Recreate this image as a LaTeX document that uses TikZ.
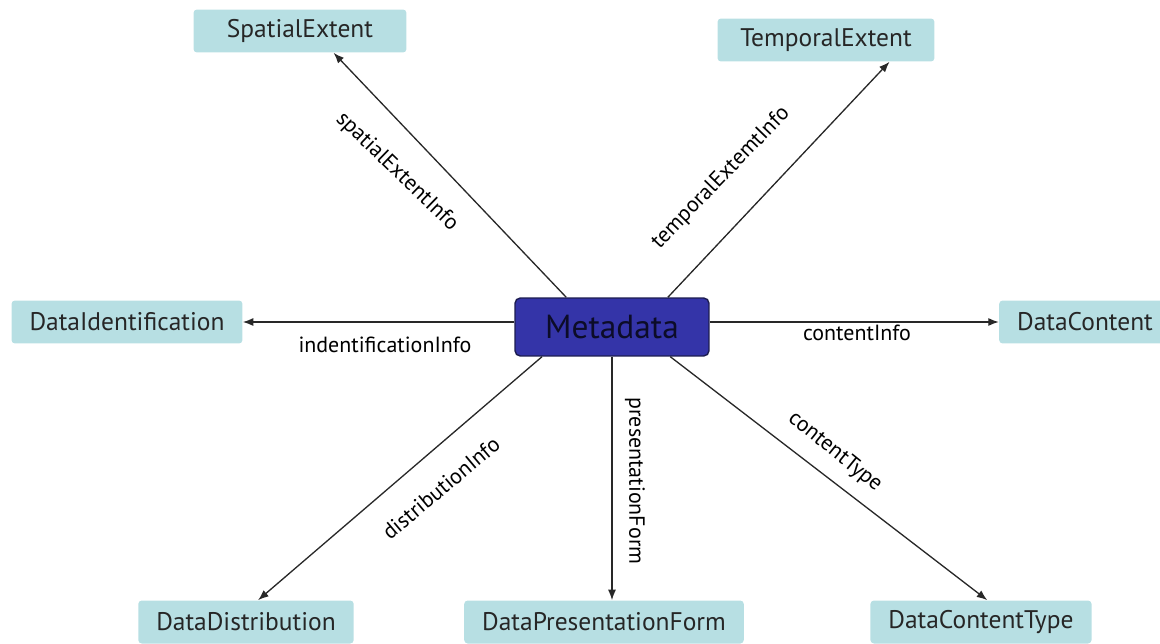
\documentclass[tikz,border=0pt]{standalone}
\usepackage{amsmath}
\usepackage{fontspec}
\setmainfont{PT Sans}
\usetikzlibrary{positioning,arrows.meta}

\definecolor{boxteal}{RGB}{183,223,227}
\definecolor{metablue}{RGB}{52,52,168}
\definecolor{metaedge}{RGB}{28,28,80}
\definecolor{metatext}{RGB}{12,12,40}
\definecolor{linegray}{RGB}{40,40,40}

\begin{document}
\begin{tikzpicture}[x=0.02cm,y=0.02cm,
		classbox/.style={fill=boxteal,rounded corners=2pt,minimum height=0.86cm,inner xsep=0.36cm,text=black!85,font=\fontsize{14.5}{17}\selectfont},
		metabox/.style={fill=metablue,draw=metaedge,line width=0.8pt,rounded corners=3pt,minimum width=3.88cm,minimum height=1.16cm,text=metatext,font=\fontsize{19}{22}\selectfont},
		link/.style={draw=linegray,line width=0.75pt,-{Latex[length=6pt,width=4.6pt]}},
		role/.style={font=\fontsize{12.5}{15}\selectfont,inner sep=1pt}]
			\useasboundingbox (-612,327) rectangle (548,-316);
			%% centre
			\coordinate (o) at (0,0);
			\node[metabox] (meta) at (o) {Metadata};
			%% classes round it
			\node[classbox,minimum width=4.26cm,above right =296 and -312 of o,anchor=center] (spatial) {SpatialExtent};
			\node[classbox,minimum width=4.34cm,above right =287 and 214 of o,anchor=center] (temporal) {TemporalExtent};
			\node[classbox,above right =5 and -485 of o,anchor=center] (ident) {DataIdentification};
			\node[classbox,above right =5 and 473 of o,anchor=center] (content) {DataContent};
			\node[classbox,above right =-295 and -366 of o,anchor=center] (distribution) {DataDistribution};
			\node[classbox,above right =-295 and -8 of o,anchor=center] (presentation) {DataPresentationForm};
			\node[classbox,above right =-295 and 369 of o,anchor=center] (contenttype) {DataContentType};
			%% role names
			\node[role,rotate=-44,above right =155 and -215 of o,anchor=center] (spatiallbl) {spatialExtentInfo};
			\node[role,rotate=46,above right =149 and 109 of o,anchor=center] (temporallbl) {temporalExtemtInfo};
			\node[role,above right =-18 and -227 of o,anchor=center] (identlbl) {indentificationInfo};
			\node[role,above right =-6 and 245 of o,anchor=center] (contentlbl) {contentInfo};
			\node[role,rotate=40,above right =-161 and -171 of o,anchor=center] (distributionlbl) {distributionInfo};
			\node[role,rotate=-90,above right =-154 and 23 of o,anchor=center] (presentationlbl) {presentationForm};
			\node[role,rotate=-39,above right =-125 and 223 of o,anchor=center] (contenttypelbl) {contentType};
			% connectors
			\draw[link] (meta.147) -- (spatial.-33);
			\draw[link] (meta.28) -- (temporal.-19);
			\draw[link] (ident -| meta.west) -- (ident);
			\draw[link] (content -| meta.east) -- (content);
			\draw[link] (meta.203) -- (distribution.61);
			\draw[link] (meta.south) -- (meta.south |- presentation.north);
			\draw[link] (meta.-27) -- (contenttype.74);
		\end{tikzpicture}
\end{document}
